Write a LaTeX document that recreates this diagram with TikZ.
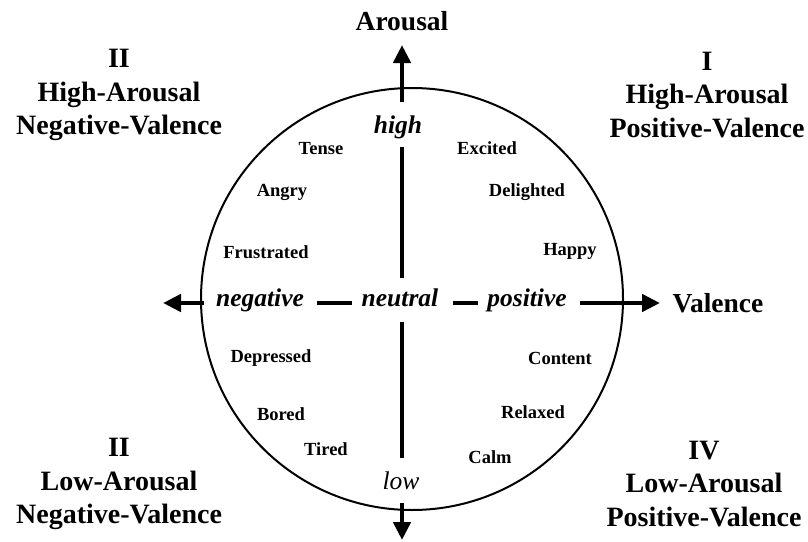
\documentclass[tikz,border=0pt]{standalone}
\usepackage{fontspec}
\setmainfont{Liberation Serif}
\usetikzlibrary{arrows.meta}
\begin{document}
\begin{tikzpicture}[x=1pt,y=-1pt,
  axis/.style={line width=4.5pt},
  axisarrow/.style={line width=4.5pt,-{Triangle[length=18pt,width=17pt]}},
  quad/.style={font=\fontsize{28}{33.5}\selectfont\bfseries,align=center,inner sep=0pt},
  emo/.style={font=\fontsize{18.5}{20}\selectfont\bfseries,inner sep=0pt},
  pole/.style={font=\fontsize{25.5}{28}\selectfont\bfseries\itshape,inner sep=0pt,anchor=base},
  polelight/.style={font=\fontsize{25.5}{28}\selectfont\itshape,inner sep=0pt,anchor=base},
  axlabel/.style={font=\fontsize{27.5}{30}\selectfont\bfseries,inner sep=0pt}]
\useasboundingbox (0,0) rectangle (808,541);
% circle
\node[draw, circle, line width=2pt, minimum size=422pt, inner sep=0pt] (circ) at (412,299) {};
% axis labels
\node[axlabel] (arousal) at (402,21) {Arousal};
\node[axlabel] (valence) at (718,303) {Valence};
% poles
\node[pole] (high) at (398,133) {high};
\node[polelight] (low) at (401,489) {low};
\node[pole] (negative) at (260,306) {negative};
\node[pole] (neutral) at (400,306) {neutral};
\node[pole] (positive) at (527,306) {positive};
% axis coordinates
\coordinate (vtoptip) at (402,45);
\coordinate (vtopstart) at (402,102);
\coordinate (vA1) at (402,147);
\coordinate (vA2) at (402,278);
\coordinate (vB1) at (402,322);
\coordinate (vB2) at (402,458);
\coordinate (vbotstart) at (402,503);
\coordinate (vbottip) at (402,540);
\coordinate (hlefttip) at (163,303);
\coordinate (hleftstart) at (204,303);
\coordinate (hD1) at (317,303);
\coordinate (hD2) at (352,303);
\coordinate (hE1) at (453,303);
\coordinate (hE2) at (478,303);
\coordinate (hrightstart) at (580,303);
\coordinate (hrighttip) at (660,303);
% axes
\draw[axisarrow] (vtopstart) -- (vtoptip);
\draw[axis] (vA1) -- (vA2);
\draw[axis] (vB1) -- (vB2);
\draw[axisarrow] (vbotstart) -- (vbottip);
\draw[axisarrow] (hleftstart) -- (hlefttip);
\draw[axis] (hD1) -- (hD2);
\draw[axis] (hE1) -- (hE2);
\draw[axisarrow] (hrightstart) -- (hrighttip);
% emotions
\node[emo] (tense) at (321,149) {Tense};
\node[emo] (angry) at (282,192) {Angry};
\node[emo] (frustrated) at (266,252) {Frustrated};
\node[emo] (excited) at (487,148) {Excited};
\node[emo] (delighted) at (527,192) {Delighted};
\node[emo] (happy) at (570,251) {Happy};
\node[emo] (depressed) at (271,358) {Depressed};
\node[emo] (bored) at (281,414) {Bored};
\node[emo] (tired) at (326,449) {Tired};
\node[emo] (content) at (560,358) {Content};
\node[emo] (relaxed) at (533,412) {Relaxed};
\node[emo] (calm) at (490,457) {Calm};
% quadrant labels
\node[quad] (q2hi) at (119,95) {II\\High-Arousal\\Negative-Valence};
\node[quad] (q1) at (707,95) {I\\High-Arousal\\Positive-Valence};
\node[quad] (q2lo) at (119,484) {II\\Low-Arousal\\Negative-Valence};
\node[quad] (q4) at (704,484) {IV\\Low-Arousal\\Positive-Valence};
\end{tikzpicture}
\end{document}
